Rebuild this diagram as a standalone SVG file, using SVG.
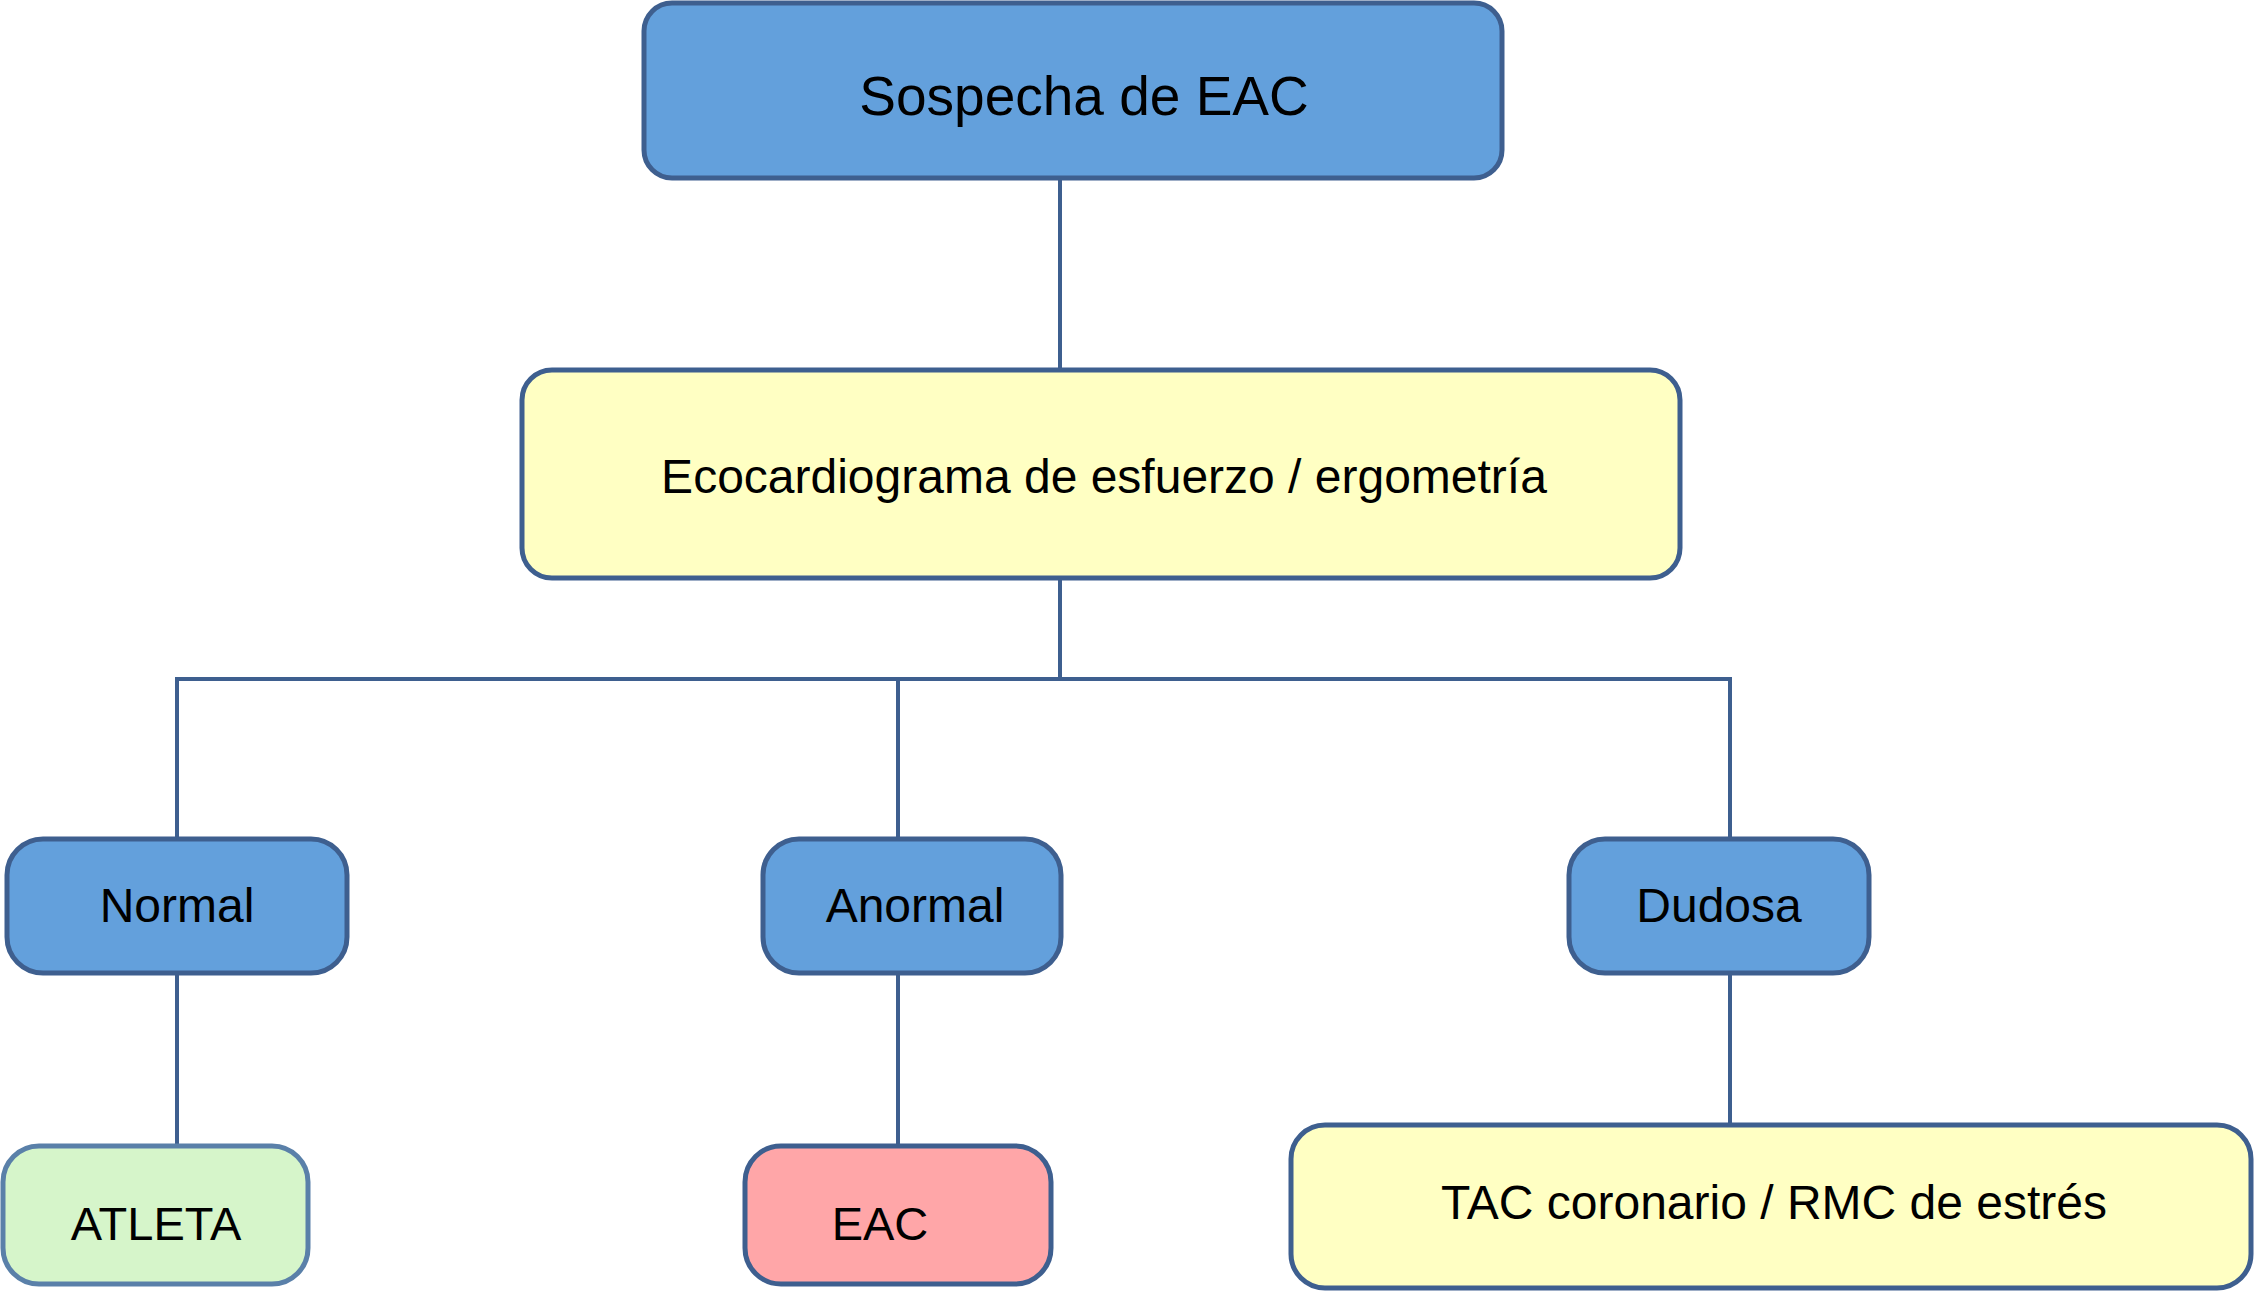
<svg xmlns="http://www.w3.org/2000/svg" width="2256" height="1291" viewBox="0 0 2256 1291">
<style>
.box{stroke:#3e5f8f;stroke-width:5}
.blue{fill:#63a0dc}
.yellow{fill:#ffffc3}
.green{fill:#d6f5ca;stroke:#5a80a9}
.pink{fill:#ffa6a8}
.t{font-family:"Liberation Sans",Arial,sans-serif;fill:#000;text-anchor:middle}
.conn{fill:none;stroke:#3e5f8f;stroke-width:4}
</style>
<rect width="2256" height="1291" fill="#ffffff"/>
<g id="connectors">
<line class="conn" x1="1060" y1="178" x2="1060" y2="370"/>
<polyline class="conn" points="1060,578 1060,679"/>
<polyline class="conn" points="177,839 177,679 1730,679 1730,839"/>
<line class="conn" x1="898" y1="679" x2="898" y2="839"/>
<line class="conn" x1="177" y1="973" x2="177" y2="1146"/>
<line class="conn" x1="898" y1="973" x2="898" y2="1146"/>
<line class="conn" x1="1730" y1="973" x2="1730" y2="1125"/>
</g>
<g id="sospecha">
<rect class="box blue" x="644" y="3" width="858" height="175" rx="28"/>
<text class="t" x="1084" y="115" font-size="55">Sospecha de EAC</text>
</g>
<g id="ecocardiograma">
<rect class="box yellow" x="522" y="370" width="1158" height="208" rx="30"/>
<text class="t" x="1104" y="493" font-size="48">Ecocardiograma de esfuerzo / ergometría</text>
</g>
<g id="normal">
<rect class="box blue" x="7" y="839" width="340" height="134" rx="36"/>
<text class="t" x="177" y="922" font-size="48">Normal</text>
</g>
<g id="anormal">
<rect class="box blue" x="763" y="839" width="298" height="134" rx="36"/>
<text class="t" x="915" y="922" font-size="48">Anormal</text>
</g>
<g id="dudosa">
<rect class="box blue" x="1569" y="839" width="300" height="134" rx="36"/>
<text class="t" x="1719" y="922" font-size="48">Dudosa</text>
</g>
<g id="atleta">
<rect class="box green" x="3" y="1146" width="305" height="138" rx="36"/>
<text class="t" x="156" y="1240" font-size="47">ATLETA</text>
</g>
<g id="eac">
<rect class="box pink" x="745" y="1146" width="306" height="138" rx="36"/>
<text class="t" x="880" y="1240" font-size="47">EAC</text>
</g>
<g id="tac">
<rect class="box yellow" x="1291" y="1125" width="960" height="163" rx="34"/>
<text class="t" x="1774" y="1219" font-size="48">TAC coronario / RMC de estrés</text>
</g>
</svg>
